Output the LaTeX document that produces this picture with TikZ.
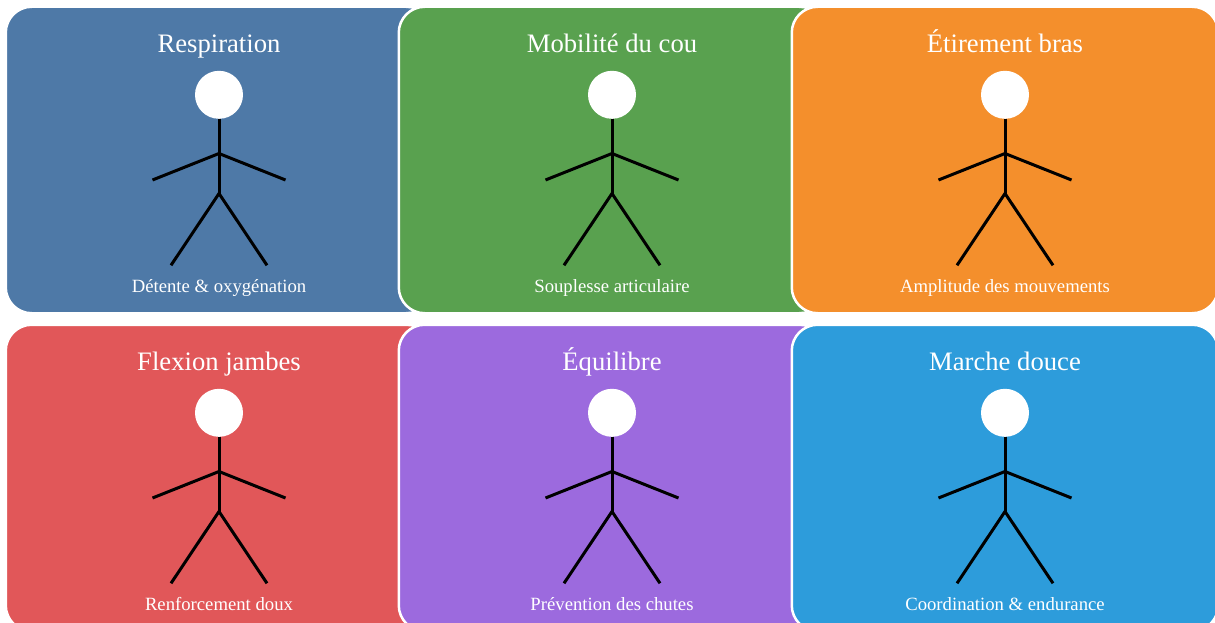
\documentclass[tikz,border=0pt]{standalone}
\usepackage{fontspec}
\setmainfont{Liberation Serif}
\definecolor{cA}{HTML}{4E79A7}
\definecolor{cB}{HTML}{59A14F}
\definecolor{cC}{HTML}{F48F2C}
\definecolor{cD}{HTML}{E15759}
\definecolor{cE}{HTML}{9C6ADE}
\definecolor{cF}{HTML}{2D9CDB}
\tikzset{
  panel/.style={draw=white,line width=2.5pt,rounded corners=26pt,minimum width=426.5pt,minimum height=306.5pt,inner sep=0pt,outer sep=0pt,anchor=north west},
  ttlstyle/.style={text=white,font=\fontsize{26.65}{27}\selectfont,anchor=base,inner sep=0pt},
  capstyle/.style={text=white,font=\fontsize{18.7}{19}\selectfont,anchor=base,inner sep=0pt},
  headdot/.style={circle,fill=white,minimum size=48pt,inner sep=0pt,outer sep=0pt},
  limb/.style={draw=black,line width=3pt}
}
\newcommand{\figpanel}[6]{%
  \node[panel,fill=#4] (p#1) at (#2-213.25,#3-1.25) {};
  \node[ttlstyle] (t#1) at (#2,#3+44.3) {#5};
  \node[headdot] (h#1) at (#2,#3+86.8) {};
  \coordinate (sh#1) at (#2,#3+145.5);
  \coordinate (hip#1) at (#2,#3+185.5);
  \coordinate (la#1) at (#2-66.5,#3+172);
  \coordinate (ra#1) at (#2+66.5,#3+172);
  \coordinate (ll#1) at (#2-48,#3+257.3);
  \coordinate (rl#1) at (#2+48,#3+257.3);
  \draw[limb] (h#1.south) -- (hip#1);
  \draw[limb] (la#1) -- (sh#1) -- (ra#1);
  \draw[limb] (ll#1) -- (hip#1) -- (rl#1);
  \node[capstyle] (c#1) at (#2,#3+284) {#6};
}
\begin{document}
\begin{tikzpicture}[x=1pt,y=-1pt]
\useasboundingbox (0,0) rectangle (1215,623);
\clip (0,0) rectangle (1215,623);
\figpanel{a}{219}{8}{cA}{Respiration}{Détente \& oxygénation}
\figpanel{b}{612}{8}{cB}{Mobilité du cou}{Souplesse articulaire}
\figpanel{c}{1005}{8}{cC}{Étirement bras}{Amplitude des mouvements}
\figpanel{d}{219}{326}{cD}{Flexion jambes}{Renforcement doux}
\figpanel{e}{612}{326}{cE}{Équilibre}{Prévention des chutes}
\figpanel{f}{1005}{326}{cF}{Marche douce}{Coordination \& endurance}
\end{tikzpicture}
\end{document}
